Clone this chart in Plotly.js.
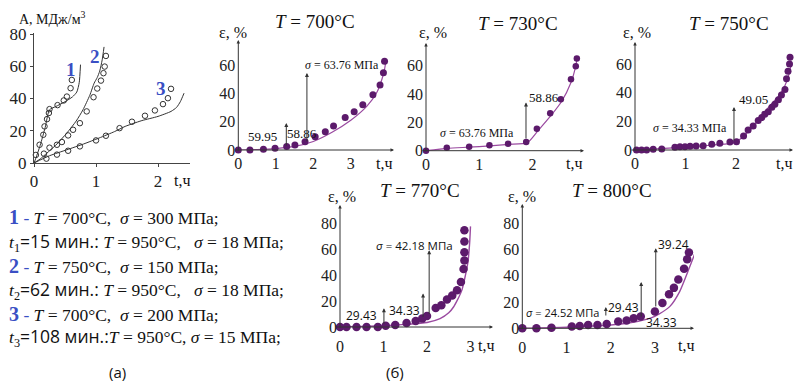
<!DOCTYPE html>
<html><head><meta charset="utf-8">
<script src="https://cdn.plot.ly/plotly-3.0.1.min.js"></script>
<style>html,body{margin:0;padding:0;background:#fff}#chart{width:795px;height:381px}</style>
</head><body><div id="chart"></div>
<script>
// ---------- DATA ----------
// Panel (a): specific work A, MJ/m3 vs time t, h
const a1LineT = [0,0.03,0.1,0.18,0.25,0.35,0.5,0.62,0.69,0.73,0.75];
const a1LineA = [0,3,11,22,33,35,38,41,44,50,61];
const a1PtsT  = [0.03,0.09,0.15,0.17,0.21,0.24,0.25,0.38,0.48,0.53,0.59,0.61];
const a1PtsA  = [5,11.3,17.5,22.7,27.2,31,33.4,35.9,38.8,41.2,46.4,51.5];
const a2LineT = [0,0.1,0.21,0.35,0.53,0.68,0.79,0.9,0.97,1.02,1.06,1.1,1.13];
const a2LineA = [0,2.5,6.2,11,18.6,26,33,42,49.5,53,57,64,72];
const a2PtsT  = [0.16,0.25,0.37,0.45,0.55,0.63,0.74,0.85,0.96,1.02,1.08,1.12,1.14,1.16];
const a2PtsA  = [5.8,9.5,11.3,13,17.1,20.6,24.7,32,40.8,46.2,51.1,55.7,59.8,66.4];
const a3LineT = [0,0.25,0.53,0.8,1.05,1.3,1.47,1.6,1.74,2.0,2.21,2.3,2.36,2.42];
const a3LineA = [0,4.5,8.2,11.8,15.5,19.5,22.7,24.5,26.3,28.9,32,34.5,38,43.3];
const a3PtsT  = [0.2,0.37,0.55,0.74,1.0,1.16,1.38,1.58,1.79,1.95,2.08,2.16,2.21];
const a3PtsA  = [2.7,5.2,7.6,10.3,14,16.9,21.6,25.6,29.3,32.6,36.5,40.2,46];
const aXTicks = [0,1,2];
const aYTicks = [0,20,40,60,80];
const curveLabels = ['1','2','3'];
const curveLabelT = [0.6,0.98,2.05];
const curveLabelA = [58,66,46];

// Panel (б): creep strain ε, % vs time t, h
const temps = ['700','730','750','770','800'];
const p700T = [0,0.31,0.67,0.98,1.29,1.51,1.78,2.05,2.32,2.54,2.85,3.09,3.32,3.59,3.78,3.87,3.9];
const p700E = [0,0,0.5,1.2,2.4,3.5,5.9,9.4,12.9,16.9,23,27,32,39,46,54.6,62.8];
const l700T = [0,0.5,1,1.5,2,2.5,3,3.43,3.7,3.83,3.9,3.93];
const l700E = [0,0.3,1,2.5,6,12.5,21,31,41,50,57,62];
const p730T = [0,0.39,0.81,1.19,1.54,1.88,2.08,2.33,2.53,2.72,2.81,2.83];
const p730E = [0,2.1,2.8,3.8,4.9,6.1,15.5,26.4,36.2,50.4,59.5,65];
const l730T = [0,0.4,0.8,1.2,1.55,1.9,2.1,2.35,2.55,2.72,2.8,2.84];
const l730E = [0,1.6,2.5,3.4,4.5,5.6,14,25,35,48,58,66];
const p750T = [0.03,0.13,0.23,0.36,0.53,0.79,0.89,0.99,1.09,1.21,1.35,1.52,1.68,1.88,2.01,2.15,2.24,2.34,2.44,2.51,2.57,2.64,2.71,2.77,2.84,2.9,2.97,3.0,3.03,3.06,3.07];
const p750E = [0,0,0,0.5,0.7,1.9,2.3,2.3,2.6,2.8,3.0,4.0,4.7,5.6,5.8,9.8,14,16.7,20.5,22.6,24.9,26.7,29.8,32,35,38.4,42.3,49.8,55,60,64.7];
const l750T = [0,0.5,1,1.5,1.95,2.1,2.25,2.4,2.55,2.7,2.85,2.97,3.05,3.1];
const l750E = [0,1,2,3.3,5,8,13,19,26,32,38,45,53,61];
const p770T = [0,0.15,0.38,0.61,0.87,1.05,1.27,1.53,1.74,1.89,2.0,2.2,2.33,2.46,2.58,2.69,2.78,2.84,2.86,2.86,2.86,2.86];
const p770E = [0,0,0,0,0,1,1.5,3.1,4.6,6.5,8.5,14.7,16.8,21.4,24.5,28.4,34.8,45,51.6,58,66.3,75];
const l770T = [0,1,1.5,2,2.3,2.5,2.61,2.7,2.8,2.87,2.94,2.98,3.0];
const l770E = [0,1,2,3.5,6.5,11,15.5,21,28.4,38,50,65,78];
const p800T = [0,0.32,0.66,1.12,1.3,1.49,1.7,1.91,2.17,2.36,2.52,2.68,3.0,3.17,3.32,3.43,3.53,3.66,3.73,3.77];
const p800E = [0,0,0.5,1.3,1.8,2.6,2.6,3.3,5.1,5.9,7.7,9,12.8,19.2,26,30.8,37.2,45.4,52.6,57.7];
const l800T = [0,1,2,2.5,2.9,3.1,3.34,3.56,3.75,3.87,3.94];
const l800E = [0,0.8,2.5,4.5,7.7,11,16.7,28,43.6,54,60];
const topXTicks700 = [0,1,2,3];
const topXTicks = [0,1,2];
const topYTicks = [0,20,40,60];
const botXTicks = [0,1,2,3];
const botYTicks = [0,20,40,60,80];
// stress labels (MPa) at load steps
const s700 = ['63.76','59.95','58.86'];
const s730 = ['63.76','58.86'];
const s750 = ['34.33','49.05'];
const s770 = ['42.18','29.43','34.33','39.24'];
const s800 = ['24.52','29.43','39.24','34.33'];

// ---------- LAYOUT HELPERS ----------
const W=795,H=381;
const SERIF='Liberation Serif, DejaVu Serif, serif';
const CAL='Open Sans, Noto Sans, sans-serif';
const PURP='#5c1a6b', LPURP='#9a4aa0', AX='#444', BLUE='#3a4fc4';

function xAx(z,ppu,l,r,ticks,anchor,extra){
  return Object.assign({domain:[l/W,r/W],range:[(l-z)/ppu,(r-z)/ppu],anchor:anchor,
    showgrid:false,zeroline:false,tickvals:ticks,ticktext:ticks.map(String),
    tickfont:{family:SERIF,size:16,color:'#222'},showline:false,ticks:''},extra||{});
}
function yAx(z,ppu,t,b,ticks,anchor,extra){
  return Object.assign({domain:[1-b/H,1-t/H],range:[(z-b)/ppu,(z-t)/ppu],anchor:anchor,
    showgrid:false,zeroline:false,tickvals:ticks,ticktext:ticks.map(String),
    tickfont:{family:SERIF,size:16,color:'#222'},showline:false,ticks:''},extra||{});
}
const ann=[];
function ptxt(x,y,text,size,fam,extra){
  ann.push(Object.assign({xref:'paper',yref:'paper',x:x/W,y:1-y/H,text:text,showarrow:false,
    font:{family:fam,size:size,color:'#111'},xanchor:'center',yanchor:'middle'},extra||{}));
}
function dtxt(ax,t,e,text,size,fam,extra){
  ann.push(Object.assign({xref:'x'+ax,yref:'y'+ax,x:t,y:e,text:text,showarrow:false,
    font:{family:fam,size:size,color:'#111'},xanchor:'center',yanchor:'middle'},extra||{}));
}
function darrow(ax,t0,e0,t1,e1,size){
  ann.push({xref:'x'+ax,yref:'y'+ax,axref:'x'+ax,ayref:'y'+ax,x:t1,y:e1,ax:t0,ay:e0,text:'',
    showarrow:true,arrowhead:2,arrowsize:size||0.8,arrowwidth:1,arrowcolor:'#333',standoff:0,startstandoff:0});
}

// panel geometry (pixel positions of the axes)
const G = {
  2:{xz:238.3,xp:37.5,r:394,yz:150,yp:1.415,t:40,xt:topXTicks700,yt:topYTicks,so:2},
  3:{xz:426,xp:53.3,r:584,yz:150.7,yp:1.42,t:43,xt:topXTicks,yt:topYTicks,so:2},
  4:{xz:635,xp:50.5,r:793,yz:150,yp:1.433,t:42,xt:topXTicks,yt:topYTicks,so:2},
  5:{xz:340,xp:43.5,r:493,yz:327,yp:1.29,t:205,xt:botXTicks,yt:botYTicks,so:8},
  6:{xz:522.3,xp:44.2,r:694,yz:328.3,yp:1.3125,t:204,xt:botXTicks,yt:botYTicks,so:8}
};

const layout = {width:W,height:H,margin:{l:0,r:0,t:0,b:0},paper_bgcolor:'#fff',plot_bgcolor:'rgba(0,0,0,0)',
  showlegend:false,font:{family:SERIF,color:'#111'}};

// panel (a)
layout.xaxis = xAx(34,62,34,190,aXTicks,'y',{showline:true,linecolor:AX,ticks:'outside',ticklen:3,tickcolor:AX,tickfont:{family:SERIF,size:17,color:'#222'}});
layout.yaxis = yAx(163,1.6125,33,163,aYTicks,'x',{showline:true,linecolor:AX,ticks:'outside',ticklen:3,tickcolor:AX,tickfont:{family:SERIF,size:17,color:'#222'}});

Object.keys(G).forEach(k=>{
  const g=G[k];
  layout['xaxis'+k]=xAx(g.xz,g.xp,g.xz,g.r,g.xt,'y'+k,{ticklabelstandoff:g.so});
  layout['yaxis'+k]=yAx(g.yz,g.yp,g.t,g.yz,g.yt,'x'+k,{ticklabelstandoff:2});
  const xmax=(g.r-g.xz)/g.xp, ymax=(g.yz-g.t)/g.yp;
  darrow(k,-5/g.xp,0,xmax,0,0.7);
  darrow(k,0,-2/g.yp,0,ymax,0.7);
});

// traces
const data=[];
function line(ax,t,v,color,w){data.push({type:'scatter',mode:'lines',x:t,y:v,xaxis:'x'+ax,yaxis:'y'+ax,line:{color:color,width:w,shape:'spline',smoothing:0.6},hoverinfo:'skip'});}
function circles(ax,t,v){data.push({type:'scatter',mode:'markers',x:t,y:v,xaxis:'x'+ax,yaxis:'y'+ax,cliponaxis:false,marker:{symbol:'circle-open',size:5.5,color:'#333',line:{width:1,color:'#333'}},hoverinfo:'skip'});}
function dots(ax,t,v,s){data.push({type:'scatter',mode:'markers',x:t,y:v,xaxis:'x'+ax,yaxis:'y'+ax,cliponaxis:false,marker:{symbol:'circle',size:s,color:PURP},hoverinfo:'skip'});}

line('',a1LineT,a1LineA,'#333',1); circles('',a1PtsT,a1PtsA);
line('',a2LineT,a2LineA,'#333',1); circles('',a2PtsT,a2PtsA);
line('',a3LineT,a3LineA,'#333',1); circles('',a3PtsT,a3PtsA);

line(2,l700T,l700E,LPURP,1.2); dots(2,p700T,p700E,7);
line(3,l730T,l730E,LPURP,1.2); dots(3,p730T,p730E,6.5);
line(4,l750T,l750E,LPURP,1.2); dots(4,p750T,p750E,7);
line(5,l770T,l770E,LPURP,1.4); dots(5,p770T,p770E,8.5);
line(6,l800T,l800E,LPURP,1.4); dots(6,p800T,p800E,8.5);

// panel (a) texts
ptxt(17,18,'А, МДж/м<sup>3</sup>',14,SERIF,{xanchor:'left'});
ptxt(182,180,'t,ч',16,SERIF);
curveLabels.forEach((c,i)=>dtxt('',curveLabelT[i],curveLabelA[i],'<b>'+c+'</b>',19,SERIF,{font:{family:SERIF,size:19,color:BLUE}}));

// legend block
const nb='\u00a0';
const sp='<span style="font-family:Open Sans;font-size:17.5px">';
const L=[
 ['<span style="color:'+BLUE+'"><b style="font-size:20px">1</b> - </span><i>T</i> = 700°C,'+nb+nb+'<i>σ</i> = 300 МПа;',217],
 ['<i>t</i><sub>1</sub>'+sp+'=15 мин.:</span> <i>T</i> = 950°C,'+nb+nb+nb+'<i>σ</i> = 18 МПа;',242],
 ['<span style="color:'+BLUE+'"><b style="font-size:20px">2</b> - </span><i>T</i> = 750°C,'+nb+nb+'<i>σ</i> = 150 МПа;',266],
 ['<i>t</i><sub>2</sub>'+sp+'=62 мин.:</span> <i>T</i> = 950°C,'+nb+nb+nb+'<i>σ</i> = 18 МПа;',290],
 ['<span style="color:'+BLUE+'"><b style="font-size:20px">3</b> - </span><i>T</i> = 700°C,'+nb+nb+'<i>σ</i> = 200 МПа;',314],
 ['<i>t</i><sub>3</sub>'+sp+'=108 мин.:</span><i>T</i> = 950°C,'+nb+'<i>σ</i> = 15 МПа;',337]
];
L.forEach(r=>ptxt(7,r[1],r[0],17.5,SERIF,{xanchor:'left'}));
ptxt(117,372,'(а)',15,CAL);
ptxt(395,372,'(б)',15,CAL);

// panel (б) titles, axis names
const titlePos=[[315,22],[518,23],[729,23],[420,190],[612,190]];
temps.forEach((tp,i)=>ptxt(titlePos[i][0],titlePos[i][1],'<i>T</i> = '+tp+'°C',19,SERIF));
const epsPos=[[233,33],[433,33],[637,33],[342,196],[522,196]];
epsPos.forEach(p=>ptxt(p[0],p[1],'ε, %',16,SERIF));
const tPos=[[384,163],[574,163],[784,163],[486,345],[686,345]];
tPos.forEach(p=>ptxt(p[0],p[1],'t,ч',16,SERIF));

// stress annotations
// 700
dtxt(2,2.77,60,'<i>σ</i> = '+s700[0]+' МПа',12,SERIF);
dtxt(2,0.64,9.2,s700[1],13,SERIF);
dtxt(2,1.7,12,s700[2],13,SERIF);
darrow(2,1.28,2,1.28,19);
darrow(2,1.83,5,1.83,54.5);
// 730
dtxt(3,0.96,12.5,'<i>σ</i> = '+s730[0]+' МПа',12,SERIF);
dtxt(3,2.21,37.8,s730[1],13,SERIF);
darrow(3,1.876,7.5,1.876,34);
// 750
dtxt(4,1.09,15.4,'<i>σ</i> = '+s750[0]+' МПа',12,SERIF);
dtxt(4,2.34,34.9,s750[1],13,SERIF);
darrow(4,1.96,5.6,1.96,30);
// 770
dtxt(5,1.72,63.3,'<i>σ</i> = '+s770[0]+' МПа',11.5,CAL);
dtxt(5,0.5,9.1,s770[1],12,CAL);
dtxt(5,1.49,12.9,s770[2],12,CAL);
dtxt(5,2.32,-0.2,s770[3],12,CAL);
darrow(5,1.01,1.3,1.01,14.5);
darrow(5,1.91,6.7,1.91,26);
darrow(5,2.05,9,2.05,59.5);
// 800
dtxt(6,0.92,12.4,'<i>σ</i> = '+s800[0]+' МПа',11,CAL);
dtxt(6,2.28,15.5,s800[1],12,CAL);
dtxt(6,3.41,64,s800[2],12,CAL);
dtxt(6,3.16,4.8,s800[3],12,CAL);
darrow(6,1.89,8.6,1.89,16.2);
darrow(6,2.69,7.8,2.69,35.3);
darrow(6,3.02,15.5,3.02,61);

layout.annotations=ann;
Plotly.newPlot('chart',data,layout,{staticPlot:true,displayModeBar:false});
</script>
</body></html>
